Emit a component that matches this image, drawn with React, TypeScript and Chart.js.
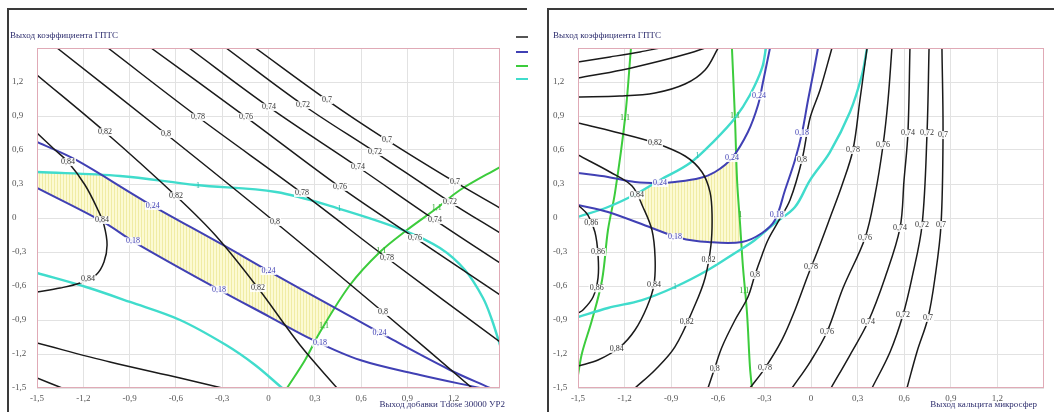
import React, { useEffect, useRef } from "react";
import { Chart, registerables } from "chart.js";

Chart.register(...registerables);

type Pt = [number, number];
type Lbl = [string, number, number];

// ---- axes ----
const X_TICKS = [-1.5, -1.2, -0.9, -0.6, -0.3, 0, 0.3, 0.6, 0.9, 1.2];
const Y_TICKS = [-1.5, -1.2, -0.9, -0.6, -0.3, 0, 0.3, 0.6, 0.9, 1.2];

const Y_TITLE = "Выход коэффициента ГПТС";
const LEFT_X_TITLE = "Выход добавки Тdose 30000 УР2";
const RIGHT_X_TITLE = "Выход кальцита микросфер";

// ---- left panel: response contours ----
const L_070: Pt[] = [[-0.085, 1.5], [0.379, 1.041], [0.768, 0.688], [1.208, 0.318], [1.5, 0.088]];
const L_072: Pt[] = [[-0.275, 1.5], [0.224, 0.997], [0.69, 0.582], [1.176, 0.141], [1.5, -0.132]];
const L_074: Pt[] = [[-0.515, 1.5], [0.003, 0.979], [0.58, 0.45], [1.079, -0.018], [1.5, -0.397]];
const L_076: Pt[] = [[-0.761, 1.5], [-0.146, 0.891], [0.463, 0.274], [0.949, -0.176], [1.5, -0.679]];
const L_078: Pt[] = [[-1.04, 1.5], [-0.457, 0.891], [0.217, 0.221], [0.768, -0.353], [1.5, -1.094]];
const L_080: Pt[] = [[-1.37, 1.5], [-0.664, 0.741], [0.042, -0.035], [0.742, -0.829], [1.319, -1.5]];
const L_082: Pt[] = [[-1.5, 1.262], [-1.059, 0.759], [-0.599, 0.194], [-0.34, -0.159], [-0.068, -0.618], [0.204, -1.121], [0.444, -1.5]];
const L_084: Pt[] = [[-1.5, 0.75], [-1.383, 0.6], [-1.299, 0.494], [-1.189, 0.291], [-1.105, 0.071], [-1.066, -0.062], [-1.046, -0.238], [-1.066, -0.388], [-1.118, -0.503], [-1.221, -0.574], [-1.351, -0.618], [-1.5, -0.653]];
const L_086: Pt[] = [[-1.5, -1.103], [-1.027, -1.271], [-0.573, -1.412], [-0.301, -1.5]];
const L_088: Pt[] = [[-1.5, -1.412], [-1.338, -1.5]];

// left panel: constraint curves
const L_BLUE_024: Pt[] = [[-1.5, 0.671], [-1.247, 0.512], [-0.794, 0.141], [-0.295, -0.238], [0.01, -0.476], [0.399, -0.768], [0.807, -1.076], [1.176, -1.341], [1.435, -1.5]];
const L_BLUE_018: Pt[] = [[-1.5, 0.265], [-1.072, -0.035], [-0.859, -0.221], [-0.34, -0.618], [0.01, -0.874], [0.288, -1.076], [0.593, -1.253], [0.982, -1.385], [1.371, -1.5]];
const L_CYAN_A: Pt[] = [[-1.5, 0.406], [-0.962, 0.371], [-0.47, 0.291], [0.049, 0.229], [0.444, 0.088], [0.872, -0.106], [1.111, -0.265], [1.273, -0.459], [1.39, -0.706], [1.448, -0.9], [1.5, -1.121]];
const L_CYAN_B: Pt[] = [[-1.5, -0.485], [-1.182, -0.609], [-0.897, -0.741], [-0.573, -0.9], [-0.275, -1.121], [-0.087, -1.297], [0.088, -1.5]];
const L_GREEN: Pt[] = [[0.12, -1.5], [0.237, -1.253], [0.334, -1.006], [0.528, -0.591], [0.722, -0.3], [0.897, -0.106], [1.092, 0.088], [1.241, 0.247], [1.5, 0.45]];
// left panel: feasible zone outline
const L_ZONE: Pt[] = [[-1.5, 0.406], [-1.085, 0.379], [-0.794, 0.141], [-0.295, -0.238], [0.01, -0.476], [0.399, -0.768], [0.433, -0.794], [0.334, -1.006], [0.303, -1.085], [0.288, -1.076], [0.01, -0.874], [-0.34, -0.618], [-0.859, -0.221], [-1.072, -0.035], [-1.5, 0.265]];

const L_BLACK_LABELS: Lbl[] = [
  ["0,7", 0.379, 1.041], ["0,7", 0.768, 0.688], ["0,7", 1.208, 0.318],
  ["0,72", 0.224, 0.997], ["0,72", 0.69, 0.582], ["0,72", 1.176, 0.141],
  ["0,74", 0.003, 0.979], ["0,74", 0.58, 0.45], ["0,74", 1.079, -0.018],
  ["0,76", -0.146, 0.891], ["0,76", 0.463, 0.274], ["0,76", 0.949, -0.176],
  ["0,78", -0.457, 0.891], ["0,78", 0.217, 0.221], ["0,78", 0.768, -0.353],
  ["0,8", -0.664, 0.741], ["0,8", 0.042, -0.035], ["0,8", 0.742, -0.829],
  ["0,82", -1.059, 0.759], ["0,82", -0.599, 0.194], ["0,82", -0.068, -0.618],
  ["0,84", -1.299, 0.494], ["0,84", -1.079, -0.018], ["0,84", -1.17, -0.54],
];
const L_BLUE_LABELS: Lbl[] = [
  ["0,24", -0.75, 0.106], ["0,24", 0.0, -0.468], ["0,24", 0.72, -1.01],
  ["0,18", -0.878, -0.205], ["0,18", -0.32, -0.632], ["0,18", 0.334, -1.1],
];
const L_CYAN_LABELS: Lbl[] = [["1", -0.457, 0.285], ["1", 0.46, 0.08]];
const L_GREEN_LABELS: Lbl[] = [["1,1", 0.36, -0.95], ["1,1", 0.73, -0.29], ["1,1", 1.09, 0.09]];

// ---- right panel: response contours ----
const R_A: Pt[] = [[-1.5, 1.376], [-1.294, 1.421], [-1.101, 1.465], [-0.972, 1.5]];
const R_B: Pt[] = [[-1.5, 1.235], [-1.217, 1.306], [-0.972, 1.385], [-0.779, 1.456], [-0.682, 1.5]];
const R_C: Pt[] = [[-1.5, 1.068], [-1.23, 1.076], [-1.004, 1.103], [-0.811, 1.182], [-0.682, 1.306], [-0.598, 1.5]];
const R_070: Pt[] = [[0.843, 1.5], [0.85, 0.732], [0.837, -0.062], [0.798, -0.529], [0.753, -0.882], [0.682, -1.182], [0.618, -1.5]];
const R_072: Pt[] = [[0.76, 1.5], [0.747, 0.75], [0.715, -0.062], [0.65, -0.529], [0.592, -0.856], [0.509, -1.182], [0.393, -1.5]];
const R_074: Pt[] = [[0.637, 1.5], [0.624, 0.75], [0.599, 0.335], [0.573, -0.088], [0.476, -0.529], [0.367, -0.918], [0.251, -1.209], [0.129, -1.5]];
const R_076: Pt[] = [[0.521, 1.5], [0.496, 1.041], [0.464, 0.644], [0.412, 0.203], [0.348, -0.176], [0.206, -0.618], [0.103, -1.006], [-0.006, -1.271], [-0.122, -1.5]];
const R_078: Pt[] = [[0.361, 1.5], [0.315, 1.041], [0.27, 0.6], [0.2, 0.291], [0.122, 0.0], [0.045, -0.282], [-0.019, -0.503], [-0.103, -0.812], [-0.187, -1.076], [-0.296, -1.324], [-0.393, -1.5]];
const R_080: Pt[] = [[0.135, 1.5], [0.058, 1.129], [-0.006, 0.882], [-0.058, 0.512], [-0.135, 0.159], [-0.212, -0.035], [-0.277, -0.194], [-0.315, -0.326], [-0.361, -0.503], [-0.406, -0.697], [-0.489, -0.9], [-0.573, -1.138], [-0.624, -1.341], [-0.663, -1.5]];
const R_082: Pt[] = [[-1.5, 0.838], [-1.262, 0.759], [-1.004, 0.662], [-0.811, 0.547], [-0.702, 0.406], [-0.65, 0.229], [-0.637, 0.026], [-0.644, -0.238], [-0.682, -0.529], [-0.747, -0.768], [-0.876, -1.138], [-1.004, -1.341], [-1.133, -1.5]];
const R_084: Pt[] = [[-1.5, 0.556], [-1.294, 0.406], [-1.152, 0.282], [-1.082, 0.097], [-1.024, -0.106], [-1.004, -0.344], [-1.011, -0.591], [-1.056, -0.785], [-1.133, -0.988], [-1.23, -1.138], [-1.371, -1.253], [-1.5, -1.306]];
const R_086: Pt[] = [[-1.5, 0.115], [-1.436, 0.026], [-1.391, -0.124], [-1.371, -0.326], [-1.371, -0.529], [-1.403, -0.697], [-1.468, -0.812], [-1.5, -0.838]];

// right panel: constraint curves
const R_BLUE_024: Pt[] = [[-1.5, 0.397], [-1.307, 0.362], [-1.133, 0.318], [-0.972, 0.309], [-0.876, 0.318], [-0.715, 0.353], [-0.618, 0.406], [-0.509, 0.529], [-0.406, 0.759], [-0.341, 0.997], [-0.309, 1.2], [-0.264, 1.5]];
const R_BLUE_018: Pt[] = [[-1.5, 0.115], [-1.307, 0.053], [-1.024, -0.088], [-0.843, -0.176], [-0.663, -0.212], [-0.444, -0.212], [-0.315, -0.132], [-0.232, -0.018], [-0.167, 0.247], [-0.103, 0.512], [-0.058, 0.75], [-0.019, 1.041], [0.019, 1.306], [0.045, 1.5]];
const R_CYAN_A: Pt[] = [[-1.5, 0.009], [-1.307, 0.097], [-1.114, 0.221], [-0.972, 0.335], [-0.779, 0.485], [-0.618, 0.688], [-0.489, 0.882], [-0.393, 1.085], [-0.315, 1.324], [-0.29, 1.5]];
const R_CYAN_B: Pt[] = [[-1.5, -0.874], [-1.307, -0.794], [-1.088, -0.724], [-0.876, -0.609], [-0.663, -0.459], [-0.489, -0.309], [-0.361, -0.194], [-0.232, -0.044], [-0.103, 0.097], [-0.006, 0.335], [0.122, 0.582], [0.251, 0.935], [0.328, 1.262], [0.361, 1.5]];
const R_GREEN_A: Pt[] = [[-1.159, 1.5], [-1.197, 0.882], [-1.262, 0.221], [-1.307, -0.106], [-1.345, -0.547], [-1.41, -0.9], [-1.474, -1.191], [-1.5, -1.385]];
const R_GREEN_B: Pt[] = [[-0.509, 1.5], [-0.489, 0.865], [-0.476, 0.335], [-0.457, -0.044], [-0.438, -0.432], [-0.412, -0.838], [-0.393, -1.315], [-0.38, -1.5]];
// right panel: feasible zone outline (0.84 contour on the left, second green line on the right)
const R_ZONE: Pt[] = [[-1.126, 0.213], [-1.002, 0.311], [-0.972, 0.309], [-0.876, 0.318], [-0.715, 0.353], [-0.618, 0.406], [-0.509, 0.529], [-0.482, 0.588], [-0.476, 0.335], [-0.457, -0.044], [-0.449, -0.212], [-0.663, -0.212], [-0.843, -0.176], [-1.03, -0.085], [-1.082, 0.097]];

const R_BLACK_LABELS: Lbl[] = [
  ["0,7", 0.85, 0.732], ["0,7", 0.837, -0.062], ["0,7", 0.753, -0.882],
  ["0,72", 0.747, 0.75], ["0,72", 0.715, -0.062], ["0,72", 0.592, -0.856],
  ["0,74", 0.624, 0.75], ["0,74", 0.573, -0.088], ["0,74", 0.367, -0.918],
  ["0,76", 0.464, 0.644], ["0,76", 0.348, -0.176], ["0,76", 0.103, -1.006],
  ["0,78", 0.27, 0.6], ["0,78", 0.0, -0.43], ["0,78", -0.296, -1.324],
  ["0,8", -0.058, 0.512], ["0,8", -0.361, -0.503], ["0,8", -0.62, -1.33],
  ["0,82", -1.004, 0.662], ["0,82", -0.66, -0.37], ["0,82", -0.8, -0.918],
  ["0,84", -1.12, 0.2], ["0,84", -1.01, -0.59], ["0,84", -1.25, -1.155],
  ["0,86", -1.415, -0.044], ["0,86", -1.371, -0.3], ["0,86", -1.38, -0.62],
];
const R_BLUE_LABELS: Lbl[] = [
  ["0,24", -0.972, 0.309], ["0,24", -0.509, 0.529], ["0,24", -0.335, 1.08],
  ["0,18", -0.876, -0.17], ["0,18", -0.22, 0.03], ["0,18", -0.058, 0.75],
];
const R_CYAN_LABELS: Lbl[] = [["1", -0.73, 0.547], ["1", -0.876, -0.609]];
const R_GREEN_LABELS: Lbl[] = [["1,1", -1.197, 0.882], ["1,1", -0.489, 0.9], ["1", -0.455, 0.03], ["1,1", -0.43, -0.64]];

// ---- styling ----
const BLACK = "#1a1a1a";
const BLUE = "#4040b4";
const CYAN = "#40dccc";
const GREEN = "#3ccc3c";
const GRID = "#e2e2e2";
const PINK = "#e0aab6";
const FRAME = "#3a3a3a";
const NAVY = "#2e2e6e";
const SERIF = '"Liberation Serif", "Times New Roman", serif';

interface Series { data: Pt[]; color: string; width: number }
interface LabelSet { items: Lbl[]; color: string; box: boolean }
interface Panel {
  series: Series[];
  zone: Pt[];
  labels: LabelSet[];
  xTitle: string;
  width: number;
  padLeft: number;
  padRight: number;
  frameW: number;
  yTitleX: number;
  xTitleX: number;
  legend: boolean;
}

const blackSeries = (list: Pt[][]): Series[] => list.map((d) => ({ data: d, color: BLACK, width: 1.5 }));

const LEFT_PANEL: Panel = {
  series: [
    ...blackSeries([L_070, L_072, L_074, L_076, L_078, L_080, L_082, L_084, L_086, L_088]),
    { data: L_BLUE_024, color: BLUE, width: 2 },
    { data: L_BLUE_018, color: BLUE, width: 2 },
    { data: L_CYAN_A, color: CYAN, width: 2.4 },
    { data: L_CYAN_B, color: CYAN, width: 2.4 },
    { data: L_GREEN, color: GREEN, width: 2 },
  ],
  zone: L_ZONE,
  labels: [
    { items: L_BLACK_LABELS, color: "#333", box: true },
    { items: L_BLUE_LABELS, color: BLUE, box: true },
    { items: L_CYAN_LABELS, color: "#2fb8a8", box: false },
    { items: L_GREEN_LABELS, color: "#2fa82f", box: false },
  ],
  xTitle: LEFT_X_TITLE,
  width: 540,
  padLeft: 12,
  padRight: 40,
  frameW: 520,
  yTitleX: 10,
  xTitleX: 505,
  legend: true,
};

const RIGHT_PANEL: Panel = {
  series: [
    ...blackSeries([R_A, R_B, R_C, R_070, R_072, R_074, R_076, R_078, R_080, R_082, R_084, R_086]),
    { data: R_BLUE_024, color: BLUE, width: 2 },
    { data: R_BLUE_018, color: BLUE, width: 2 },
    { data: R_CYAN_A, color: CYAN, width: 2.4 },
    { data: R_CYAN_B, color: CYAN, width: 2.4 },
    { data: R_GREEN_A, color: GREEN, width: 2 },
    { data: R_GREEN_B, color: GREEN, width: 2 },
  ],
  zone: R_ZONE,
  labels: [
    { items: R_BLACK_LABELS, color: "#333", box: true },
    { items: R_BLUE_LABELS, color: BLUE, box: true },
    { items: R_CYAN_LABELS, color: "#2fb8a8", box: false },
    { items: R_GREEN_LABELS, color: "#2fa82f", box: false },
  ],
  xTitle: RIGHT_X_TITLE,
  width: 514,
  padLeft: 13,
  padRight: 10,
  frameW: 507,
  yTitleX: 13,
  xTitleX: 497,
  legend: false,
};

const fmt = (v: number) => (Math.abs(v) < 1e-9 ? "0" : v.toFixed(1).replace(".", ","));

function hatchPattern(): CanvasPattern | string {
  const c = document.createElement("canvas");
  c.width = 3;
  c.height = 4;
  const g = c.getContext("2d");
  if (!g) return "rgb(250,248,200)";
  g.fillStyle = "rgb(252,250,210)";
  g.fillRect(0, 0, 3, 4);
  g.fillStyle = "rgb(240,236,165)";
  g.fillRect(0, 0, 1, 4);
  return g.createPattern(c, "repeat") ?? "rgb(250,248,200)";
}

function decorPlugin(p: Panel) {
  return {
    id: "decor",
    afterDatasetsDraw(chart: any) {
      const { ctx, chartArea: a } = chart;
      const xs = chart.scales.x;
      const ys = chart.scales.y;
      ctx.save();
      ctx.font = `8px ${SERIF}`;
      ctx.textAlign = "center";
      ctx.textBaseline = "middle";
      for (const set of p.labels) {
        for (const [t, x, y] of set.items) {
          const px = xs.getPixelForValue(x);
          const py = ys.getPixelForValue(y);
          if (set.box) {
            const w = ctx.measureText(t).width;
            ctx.fillStyle = "rgba(255,255,255,0.9)";
            ctx.fillRect(px - w / 2 - 1, py - 4, w + 2, 8);
          }
          ctx.fillStyle = set.color;
          ctx.fillText(t, px, py);
        }
      }
      ctx.strokeStyle = PINK;
      ctx.lineWidth = 1;
      ctx.strokeRect(a.left + 0.5, a.top + 0.5, a.right - a.left - 1, a.bottom - a.top - 1);
      ctx.restore();
    },
    afterDraw(chart: any) {
      const { ctx } = chart;
      ctx.save();
      ctx.fillStyle = FRAME;
      ctx.fillRect(7, 8, p.frameW, 2);
      ctx.fillRect(7, 8, 2, 404);
      ctx.font = `9px ${SERIF}`;
      ctx.fillStyle = NAVY;
      ctx.textBaseline = "middle";
      ctx.textAlign = "left";
      ctx.fillText(Y_TITLE, p.yTitleX, 36);
      ctx.textAlign = "right";
      ctx.fillText(p.xTitle, p.xTitleX, 405);
      if (p.legend) {
        const keys: [string, number][] = [["#555", 37], [BLUE, 52], [GREEN, 66], [CYAN, 79]];
        for (const [c, y] of keys) {
          ctx.fillStyle = c;
          ctx.fillRect(516, y - 1, 12, 2);
        }
      }
      ctx.restore();
    },
  };
}

function buildConfig(p: Panel): any {
  const datasets: any[] = p.series.map((s) => ({
    data: s.data.map(([x, y]) => ({ x, y })),
    showLine: true,
    borderColor: s.color,
    borderWidth: s.width,
    pointRadius: 0,
    pointHoverRadius: 0,
    tension: 0.35,
    fill: false,
    order: 1,
  }));
  datasets.push({
    data: p.zone.map(([x, y]) => ({ x, y })),
    showLine: true,
    borderWidth: 0,
    borderColor: "rgba(0,0,0,0)",
    pointRadius: 0,
    pointHoverRadius: 0,
    tension: 0,
    fill: "shape",
    backgroundColor: hatchPattern(),
    order: 5,
  });
  const tickFont = { family: SERIF, size: 9 };
  return {
    type: "scatter",
    data: { datasets },
    options: {
      animation: false,
      responsive: false,
      maintainAspectRatio: false,
      events: [],
      layout: { padding: { left: p.padLeft, right: p.padRight, top: 48, bottom: 0 } },
      plugins: { legend: { display: false }, tooltip: { enabled: false }, title: { display: false } },
      scales: {
        x: {
          type: "linear",
          min: -1.5,
          max: 1.5,
          afterBuildTicks: (s: any) => {
            s.ticks = X_TICKS.map((v) => ({ value: v }));
          },
          afterFit: (s: any) => {
            s.height = 24;
          },
          grid: { color: GRID, lineWidth: 1, drawTicks: false },
          border: { display: false },
          ticks: { callback: (v: any) => fmt(Number(v)), font: tickFont, color: "#555", padding: 5, maxRotation: 0, autoSkip: false },
        },
        y: {
          type: "linear",
          min: -1.5,
          max: 1.5,
          afterBuildTicks: (s: any) => {
            s.ticks = Y_TICKS.map((v) => ({ value: v }));
          },
          afterFit: (s: any) => {
            s.width = 25;
          },
          grid: { color: GRID, lineWidth: 1, drawTicks: false },
          border: { display: false },
          ticks: { callback: (v: any) => fmt(Number(v)), font: tickFont, color: "#555", padding: 0, crossAlign: "far", autoSkip: false },
        },
      },
    },
    plugins: [decorPlugin(p)],
  };
}

export default function App() {
  const leftRef = useRef<HTMLCanvasElement>(null);
  const rightRef = useRef<HTMLCanvasElement>(null);

  useEffect(() => {
    const charts: Chart[] = [];
    if (leftRef.current) charts.push(new Chart(leftRef.current, buildConfig(LEFT_PANEL)));
    if (rightRef.current) charts.push(new Chart(rightRef.current, buildConfig(RIGHT_PANEL)));
    return () => charts.forEach((c) => c.destroy());
  }, []);

  return (
    <div style={{ position: "absolute", left: 0, top: 0, width: 1054, height: 412, background: "#fff", overflow: "hidden" }}>
      <canvas ref={leftRef} width={540} height={412} style={{ position: "absolute", left: 0, top: 0, width: 540, height: 412 }} />
      <canvas ref={rightRef} width={514} height={412} style={{ position: "absolute", left: 540, top: 0, width: 514, height: 412 }} />
    </div>
  );
}
